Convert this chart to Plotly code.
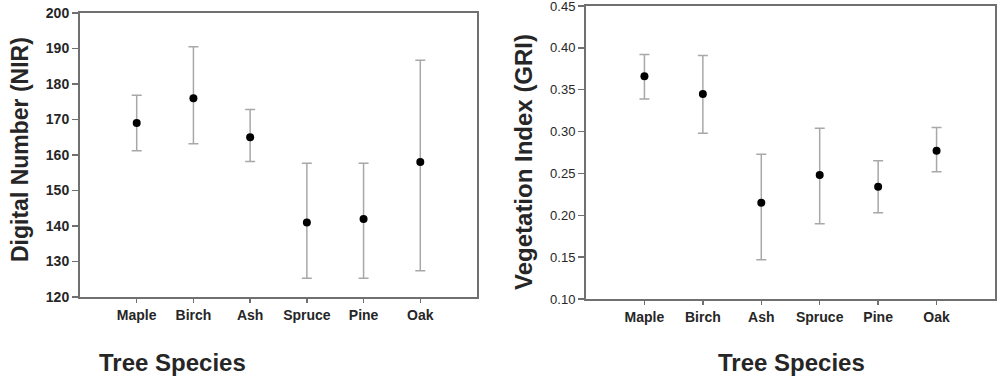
import plotly.graph_objects as go

species = ["Maple", "Birch", "Ash", "Spruce", "Pine", "Oak"]

# Left panel: Digital Number (NIR)
nir_mean = [169, 176, 165, 141, 142, 158]
nir_upper = [176.8, 190.5, 172.8, 157.7, 157.7, 186.7]
nir_lower = [161.2, 163.2, 158.2, 125.3, 125.3, 127.4]

# Right panel: Vegetation Index (GRI)
gri_mean = [0.366, 0.345, 0.215, 0.248, 0.234, 0.277]
gri_upper = [0.392, 0.391, 0.273, 0.304, 0.265, 0.305]
gri_lower = [0.339, 0.298, 0.147, 0.190, 0.203, 0.252]

nir_ticks = [120, 130, 140, 150, 160, 170, 180, 190, 200]
gri_ticks = [0.10, 0.15, 0.20, 0.25, 0.30, 0.35, 0.40, 0.45]

W, H = 1000, 380
FONT = "Liberation Sans, Arial, sans-serif"
AXC = "#707070"
ERRC = "#a8a8a8"
TXT = "#262626"

fig = go.Figure()

def add_panel(mean, up, lo, xa, ya):
    fig.add_trace(go.Scatter(
        x=species, y=mean, mode="markers", xaxis=xa, yaxis=ya,
        marker=dict(color="black", size=8),
        error_y=dict(type="data", symmetric=False,
                     array=[u - m for u, m in zip(up, mean)],
                     arrayminus=[m - l for m, l in zip(mean, lo)],
                     color=ERRC, thickness=1.5, width=5),
        showlegend=False, hoverinfo="skip"))

add_panel(nir_mean, nir_upper, nir_lower, "x", "y")
add_panel(gri_mean, gri_upper, gri_lower, "x2", "y2")

def px_x(p):
    return p / W

def px_y(p):
    return 1 - p / H

xcommon = dict(type="category", range=[-1, 6], showline=True, linecolor=AXC, linewidth=2,
               mirror=True, ticks="outside", ticklen=4, tickwidth=1.5, tickcolor=AXC,
               showgrid=False, zeroline=False, automargin=False, ticklabeloverflow="allow",
               tickfont=dict(family=FONT, size=14, color=TXT, weight="bold"))
ycommon = dict(showline=True, linecolor=AXC, linewidth=2, mirror=True,
               ticks="outside", ticklen=6, tickwidth=1.5, tickcolor=AXC,
               showgrid=False, zeroline=False, automargin=False, ticklabeloverflow="allow")

fig.update_layout(
    width=W, height=H,
    margin=dict(l=0, r=0, t=0, b=0, autoexpand=False),
    paper_bgcolor="white", plot_bgcolor="white",
    xaxis=dict(domain=[px_x(80), px_x(477)], anchor="y", **xcommon),
    yaxis=dict(domain=[px_y(297), px_y(13)], anchor="x", range=[120, 200],
               tickvals=nir_ticks,
               tickfont=dict(family=FONT, size=14, color=TXT, weight="bold"),
               **ycommon),
    xaxis2=dict(domain=[px_x(586), px_x(995)], anchor="y2", **xcommon),
    yaxis2=dict(domain=[px_y(299), px_y(6)], anchor="x2", range=[0.10, 0.45],
                tickvals=gri_ticks, tickformat=".2f",
                tickfont=dict(family=FONT, size=13, color=TXT),
                **ycommon),
)

title_font = dict(family=FONT, size=23, color=TXT, weight="bold")
fig.add_annotation(text="Digital Number (NIR)", x=px_x(20), y=px_y(150), xref="paper", yref="paper",
                   textangle=-90, showarrow=False, font=title_font, xanchor="center", yanchor="middle")
fig.add_annotation(text="Vegetation Index (GRI)", x=px_x(523), y=px_y(162), xref="paper", yref="paper",
                   textangle=-90, showarrow=False, font=dict(title_font, size=24), xanchor="center", yanchor="middle")
fig.add_annotation(text="Tree Species", x=px_x(172), y=px_y(362), xref="paper", yref="paper",
                   showarrow=False, font=dict(title_font, size=24), xanchor="center", yanchor="middle")
fig.add_annotation(text="Tree Species", x=px_x(791), y=px_y(362), xref="paper", yref="paper",
                   showarrow=False, font=dict(title_font, size=24), xanchor="center", yanchor="middle")

fig.write_html("out.html",
               config={"displayModeBar": False, "staticPlot": True},
               post_script="document.body.style.margin='0';document.body.style.overflow='hidden';")
